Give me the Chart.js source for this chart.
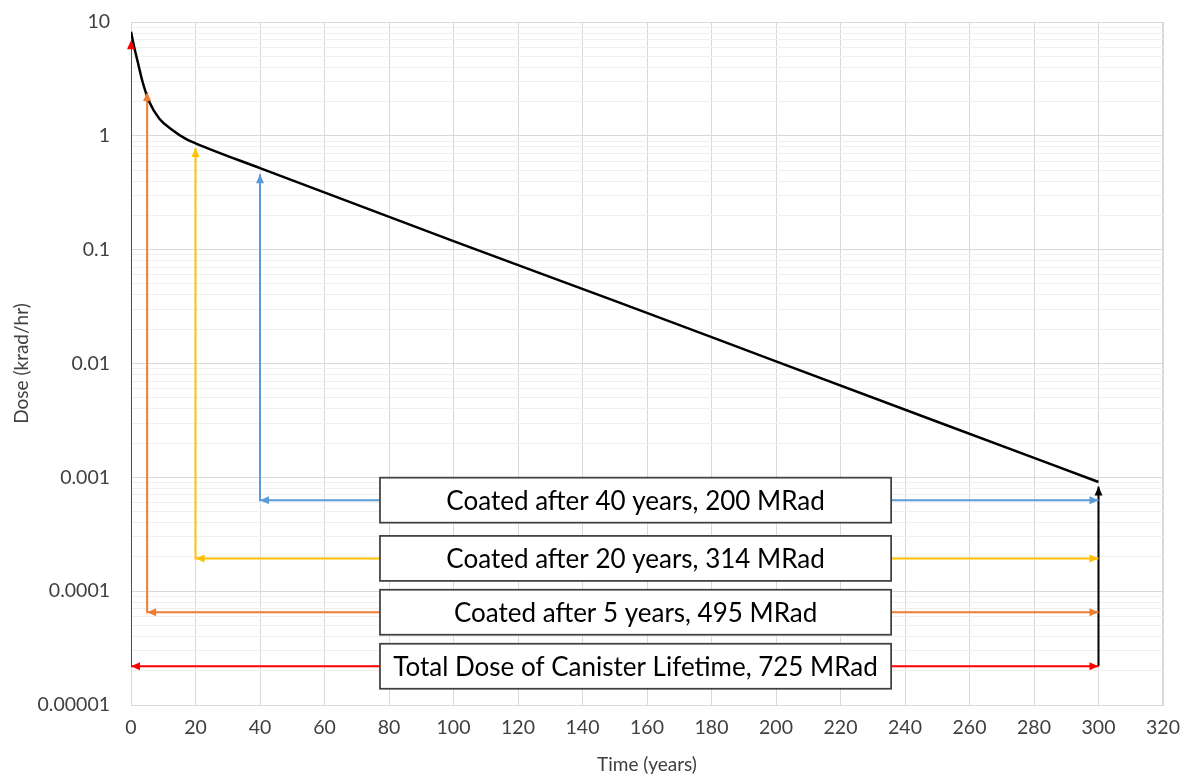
<!DOCTYPE html>
<html>
<head>
<meta charset="utf-8">
<script src="https://cdn.jsdelivr.net/npm/chart.js@4.4.1/dist/chart.umd.min.js"></script>
<style>
  html, body { margin: 0; padding: 0; background: #ffffff; }
  #wrap { position: relative; width: 1181px; height: 776px; }
</style>
</head>
<body>
<div id="wrap"><canvas id="chart"></canvas></div>
<script>
// Dose rate of the canister (krad/hr) over time (years)
const curveYears = [0, 1, 2.1, 3.6, 5.7, 8.8, 12.9, 17, 20, 40, 100, 150, 200, 250, 300];
const curveDose  = [8.2, 6.0, 4.45, 2.97, 1.98, 1.41, 1.12, 0.94, 0.86, 0.52, 0.119, 0.0355, 0.01045, 0.00308, 0.00091];

// Coating scenarios: start year, arrow tip dose, arrow baseline dose, caption
const scenarioLabels = [
  'Total Dose of Canister Lifetime, 725 MRad',
  'Coated after 5 years, 495 MRad',
  'Coated after 20 years, 314 MRad',
  'Coated after 40 years, 200 MRad'
];
const scenarioStartYears = [0, 5, 20, 40];
const scenarioTipDose    = [6.9, 2.43, 0.78, 0.46];
const scenarioBaseDose   = [0.0000219, 0.0000653, 0.000194, 0.00063];
const endYear = 300;
const endTipDose = 0.00083;

// Axis ticks
const decadeValues = [10, 1, 0.1, 0.01, 0.001, 0.0001, 0.00001];
const decadeLabels = ['10', '1', '0.1', '0.01', '0.001', '0.0001', '0.00001'];
const yearTicks = [0, 20, 40, 60, 80, 100, 120, 140, 160, 180, 200, 220, 240, 260, 280, 300, 320];

// Styles
const scenarioColors = ['#ff0000', '#ed7d31', '#ffc000', '#5b9bd5'];
const FONT = 'Lato, "Open Sans", "DejaVu Sans", sans-serif';
const BOX_FROM_YEAR = 77.2;
const BOX_TO_YEAR = 235.7;
const BOX_HEIGHT = 45;

const curveData = curveYears.map((x, i) => ({ x, y: curveDose[i] }));

const datasets = [{
  label: 'Dose',
  data: curveData,
  borderColor: '#000000',
  borderWidth: 2.5,
  pointRadius: 0,
  cubicInterpolationMode: 'monotone',
  order: 0
}];

scenarioStartYears.forEach((yr, i) => {
  datasets.push({
    label: scenarioLabels[i],
    data: [
      { x: yr, y: scenarioTipDose[i] },
      { x: yr, y: scenarioBaseDose[i] },
      { x: endYear, y: scenarioBaseDose[i] }
    ],
    borderColor: scenarioColors[i],
    borderWidth: 2,
    pointRadius: 0,
    tension: 0,
    borderJoinStyle: 'miter',
    order: 1
  });
});

datasets.push({
  label: 'End of life',
  data: [
    { x: endYear, y: scenarioBaseDose[0] },
    { x: endYear, y: endTipDose }
  ],
  borderColor: '#000000',
  borderWidth: 2,
  pointRadius: 0,
  tension: 0,
  order: 1
});

function isDecade(v) {
  const l = Math.log10(v);
  return Math.abs(l - Math.round(l)) < 1e-6;
}

function arrowHead(ctx, x, y, dir, color) {
  const L = 9, W = 4;
  ctx.save();
  ctx.fillStyle = color;
  ctx.beginPath();
  ctx.moveTo(x, y);
  if (dir === 'up') { ctx.lineTo(x - W, y + L); ctx.lineTo(x + W, y + L); }
  else if (dir === 'left') { ctx.lineTo(x + L, y - W); ctx.lineTo(x + L, y + W); }
  else { ctx.lineTo(x - L, y - W); ctx.lineTo(x - L, y + W); }
  ctx.closePath();
  ctx.fill();
  ctx.restore();
}

// Arrow heads and caption boxes on top of the lines
const annotations = {
  id: 'scenarioAnnotations',
  afterDatasetsDraw(chart) {
    const ctx = chart.ctx;
    const xs = chart.scales.x, ys = chart.scales.y;
    scenarioStartYears.forEach((yr, i) => {
      const c = scenarioColors[i];
      const px = xs.getPixelForValue(yr);
      const pyBase = ys.getPixelForValue(scenarioBaseDose[i]);
      arrowHead(ctx, px, ys.getPixelForValue(scenarioTipDose[i]), 'up', c);
      arrowHead(ctx, px, pyBase, 'left', c);
      arrowHead(ctx, xs.getPixelForValue(endYear), pyBase, 'right', c);
    });
    arrowHead(ctx, xs.getPixelForValue(endYear), ys.getPixelForValue(endTipDose), 'up', '#000000');

    const left = xs.getPixelForValue(BOX_FROM_YEAR);
    const right = xs.getPixelForValue(BOX_TO_YEAR);
    ctx.save();
    ctx.font = '26px ' + FONT;
    ctx.textAlign = 'center';
    ctx.textBaseline = 'middle';
    scenarioLabels.forEach((txt, i) => {
      const cy = ys.getPixelForValue(scenarioBaseDose[i]);
      const top = cy - BOX_HEIGHT / 2;
      ctx.fillStyle = '#ffffff';
      ctx.fillRect(left, top, right - left, BOX_HEIGHT);
      ctx.strokeStyle = '#404040';
      ctx.lineWidth = 1.75;
      ctx.strokeRect(left, top, right - left, BOX_HEIGHT);
      ctx.fillStyle = '#000000';
      ctx.fillText(txt, (left + right) / 2, cy + 1);
    });
    ctx.restore();
  }
};

new Chart(document.getElementById('chart'), {
  type: 'scatter',
  data: { datasets },
  options: {
    responsive: true,
    maintainAspectRatio: false,
    animation: false,
    showLine: true,
    layout: { autoPadding: false, padding: { top: 22, right: 18, left: 0, bottom: 0 } },
    plugins: { legend: { display: false }, tooltip: { enabled: false } },
    scales: {
      x: {
        type: 'linear',
        min: 0,
        max: 320,
        afterBuildTicks(scale) { scale.ticks = yearTicks.map(v => ({ value: v })); },
        afterFit(scale) {
          scale.height = 71;
          scale.paddingLeft = 0;
          scale.paddingRight = 0;
        },
        ticks: {
          autoSkip: false,
          maxRotation: 0,
          padding: 11,
          color: '#404040',
          font: { family: FONT, size: 19.5 },
          callback: (v) => String(v)
        },
        grid: {
          color: '#d9d9d9',
          lineWidth: (ctx) => (ctx.tick && ctx.tick.value === 320) ? 2 : 1,
          drawTicks: false
        },
        border: { color: '#d9d9d9', width: 1 },
        title: {
          display: true,
          text: 'Time (years)',
          color: '#404040',
          font: { family: FONT, size: 19 },
          padding: { top: 0, bottom: 0 }
        }
      },
      y: {
        type: 'logarithmic',
        min: 0.00001,
        max: 10,
        afterBuildTicks(scale) {
          const t = [];
          decadeValues.slice().reverse().forEach((d) => {
            const steps = d === 10 ? 1 : 9;
            for (let m = 1; m <= steps; m++) t.push({ value: m * d });
          });
          scale.ticks = t;
        },
        afterFit(scale) {
          scale.width = 131;
          scale.paddingTop = 0;
          scale.paddingBottom = 0;
        },
        ticks: {
          autoSkip: false,
          padding: 21,
          color: '#404040',
          font: { family: FONT, size: 19.5 },
          callback: (v) => {
            const k = decadeValues.findIndex(d => Math.abs(d - v) / d < 1e-6);
            return k >= 0 ? decadeLabels[k] : '';
          }
        },
        grid: {
          drawTicks: false,
          lineWidth: 1,
          color: (ctx) => (ctx.tick && isDecade(ctx.tick.value)) ? '#d9d9d9' : '#f0f0f0'
        },
        border: { color: '#d9d9d9', width: 1 },
        title: {
          display: true,
          text: 'Dose (krad/hr)',
          color: '#404040',
          font: { family: FONT, size: 19 },
          padding: { top: 10, bottom: 0 }
        }
      }
    }
  },
  plugins: [annotations]
});
</script>
</body>
</html>
